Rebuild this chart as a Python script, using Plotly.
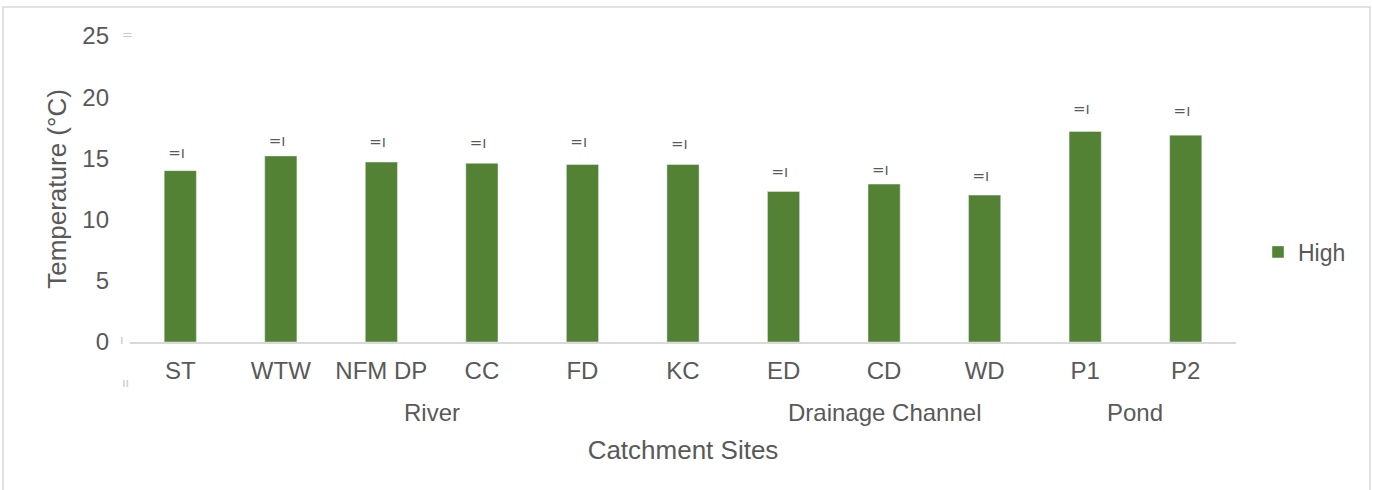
import plotly.graph_objects as go

sites = ["ST", "WTW", "NFM DP", "CC", "FD", "KC", "ED", "CD", "WD", "P1", "P2"]
high = [14.0, 15.2, 14.7, 14.6, 14.5, 14.5, 12.3, 12.9, 12.0, 17.2, 16.9]
# small marks drawn above each bar in the reference
mark_levels = [15.36, 16.34, 16.26, 16.18, 16.26, 16.09, 13.81, 13.97, 13.48, 18.95, 18.79]
groups = ["River", "Drainage Channel", "Pond"]
group_centers = [2.5, 7.0, 9.5]

W, H = 1373, 490
L, R, T, B = 130, 137, 36, 148
pw, ph = W - L - R, H - T - B

font_col = "#595959"

fig = go.Figure()
fig.add_trace(go.Bar(x=sites, y=high, name="High", marker_color="#548235",
                     width=0.32, showlegend=True))
fig.add_trace(go.Scatter(x=sites, y=mark_levels, mode="text", text=["=ı\u2002"] * len(sites),
                         textfont=dict(size=15, color="#5a5a5a", family="DejaVu Sans"),
                         showlegend=False, hoverinfo="skip"))

for g, c in zip(groups, group_centers):
    fig.add_annotation(x=c, xref="x", y=(H - B - 412) / ph, yref="paper",
                       text=g, showarrow=False, font=dict(size=24, color=font_col),
                       yanchor="middle")

# faint axis artefacts
for txt, px, py in [("=", 127, 34), ("ı", 122, 339), ("ıı", 125, 382)]:
    fig.add_annotation(x=(px - L) / pw, xref="paper", y=(H - B - py) / ph, yref="paper",
                       text=txt, showarrow=False, yanchor="middle", xanchor="center",
                       font=dict(size=13, color="#c8c8c8", family="DejaVu Sans"))

# outer border
fig.add_shape(type="rect", xref="paper", yref="paper",
              x0=(3 - L) / pw, x1=(1370 - L) / pw,
              y0=(H - B - 495) / ph, y1=(H - B - 7) / ph,
              line=dict(color="#d9d9d9", width=1.5), fillcolor="rgba(0,0,0,0)", layer="below")

fig.update_layout(
    width=W, height=H,
    margin=dict(l=L, r=R, t=T, b=B, autoexpand=False),
    paper_bgcolor="white", plot_bgcolor="white",
    font=dict(family="Liberation Sans, Arial, sans-serif", color=font_col, size=24),
    xaxis=dict(showline=True, linecolor="#d9d9d9", linewidth=1.5, ticks="",
               tickfont=dict(size=24, color=font_col), ticklabelstandoff=6,
               title=dict(text="Catchment Sites", font=dict(size=26, color=font_col), standoff=58),
               range=[-0.5, 10.5]),
    yaxis=dict(range=[0, 25], dtick=5, showgrid=False, zeroline=False, showline=False,
               tickfont=dict(size=24, color=font_col), ticklabelstandoff=20,
               title=dict(text="Temperature (°C)", font=dict(size=26, color=font_col), standoff=8)),
    legend=dict(x=(1258 - L) / pw, y=(H - B - 252) / ph, xanchor="left", yanchor="middle",
                font=dict(size=23, color=font_col), itemwidth=30),
    bargap=0.68,
)

fig.write_html("out.html", config={"displayModeBar": False},
               post_script="document.body.style.margin='0';document.body.style.overflow='hidden';")
